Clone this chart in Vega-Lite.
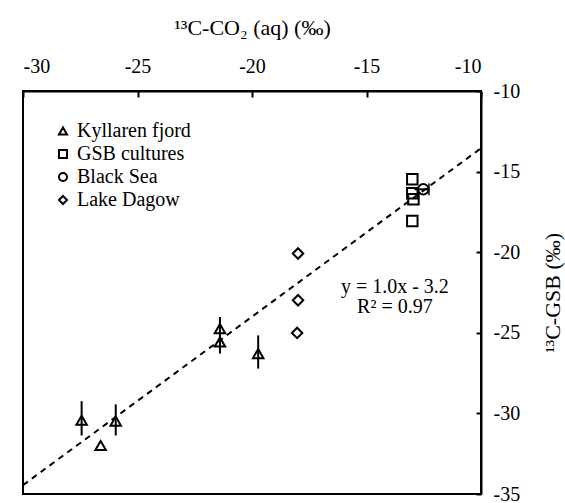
{
  "$schema": "https://vega.github.io/schema/vega-lite/v6.json",
  "autosize": {"type": "none"},
  "padding": {"left": 23, "top": 91, "right": 84, "bottom": 9},
  "width": 458,
  "height": 403,
  "config": {
    "font": "Liberation Serif, serif",
    "view": {"stroke": "black", "strokeWidth": 2},
    "background": "white",
    "axis": {"labelFont": "Liberation Serif, serif", "titleFont": "Liberation Serif, serif"},
    "legend": {"labelFont": "Liberation Serif, serif", "titleFont": "Liberation Serif, serif"},
    "text": {"font": "Liberation Serif, serif"}
  },
  "datasets": {
    "pts": [
      {"group": "Kyllaren fjord", "x": -27.44, "y": -30.43, "ylo": -31.37, "yhi": -29.24},
      {"group": "Kyllaren fjord", "x": -25.95, "y": -30.48, "ylo": -31.37, "yhi": -29.44},
      {"group": "Kyllaren fjord", "x": -26.61, "y": -31.99},
      {"group": "Kyllaren fjord", "x": -21.40, "y": -24.74, "ylo": -25.4, "yhi": -24.02},
      {"group": "Kyllaren fjord", "x": -21.40, "y": -25.57, "ylo": -26.29, "yhi": -24.9},
      {"group": "Kyllaren fjord", "x": -19.73, "y": -26.29, "ylo": -27.22, "yhi": -25.16},
      {"group": "GSB cultures", "x": -13.0, "y": -15.48},
      {"group": "GSB cultures", "x": -13.0, "y": -16.35},
      {"group": "GSB cultures", "x": -12.95, "y": -16.71},
      {"group": "GSB cultures", "x": -13.0, "y": -18.06},
      {"group": "Black Sea", "x": -12.52, "y": -16.1, "xlo": -12.9, "xhi": -12.27},
      {"group": "Lake Dagow", "x": -17.99, "y": -20.08},
      {"group": "Lake Dagow", "x": -17.99, "y": -22.98},
      {"group": "Lake Dagow", "x": -18.03, "y": -25.01}
    ],
    "fit": [
      {"x": -30, "y": -34.45},
      {"x": -10, "y": -13.55}
    ],
    "eq": [
      {"x": -13.76, "y": -22.5, "t": "y = 1.0x - 3.2"},
      {"x": -13.76, "y": -23.8, "t": "R² = 0.97"}
    ]
  },
  "encoding": {
    "x": {
      "field": "x", "type": "quantitative",
      "scale": {"domain": [-30, -10], "nice": false, "zero": false},
      "axis": {
        "orient": "top",
        "title": "¹³C-CO₂ (aq) (‰)",
        "values": [-30, -25, -20, -15, -10],
        "labelExpr": "'' + datum.value",
        "grid": false,
        "domainColor": "black", "domainWidth": 2,
        "tickColor": "black", "tickWidth": 2, "tickSize": -6,
        "labelPadding": 21,
        "labelFont": "Liberation Serif, serif", "labelFontSize": 20, "labelColor": "black",
        "titleFont": "Liberation Serif, serif", "titleFontSize": 22, "titleFontWeight": "normal", "titleColor": "black",
        "titlePadding": 17
      }
    },
    "y": {
      "field": "y", "type": "quantitative",
      "scale": {"domain": [-35, -10], "nice": false, "zero": false},
      "axis": {
        "orient": "right",
        "title": "¹³C-GSB (‰)",
        "values": [-35, -30, -25, -20, -15, -10],
        "labelExpr": "'' + datum.value",
        "grid": false,
        "domainColor": "black", "domainWidth": 2,
        "tickColor": "black", "tickWidth": 2, "tickSize": -5,
        "labelPadding": 17,
        "labelFont": "Liberation Serif, serif", "labelFontSize": 20, "labelColor": "black",
        "titleFont": "Liberation Serif, serif", "titleFontSize": 22, "titleFontWeight": "normal", "titleColor": "black",
        "titleAngle": 270, "titlePadding": 45
      }
    }
  },
  "layer": [
    {
      "data": {"name": "fit"},
      "mark": {"type": "line", "color": "black", "strokeWidth": 2, "strokeDash": [6, 5], "clip": true},
      "encoding": {}
    },
    {
      "data": {"name": "pts"},
      "transform": [{"filter": "isValid(datum.ylo)"}],
      "mark": {"type": "rule", "color": "black", "strokeWidth": 2},
      "encoding": {"y": {"field": "ylo", "type": "quantitative"}, "y2": {"field": "yhi"}}
    },
    {
      "data": {"name": "pts"},
      "transform": [{"filter": "isValid(datum.xlo)"}],
      "mark": {"type": "rule", "color": "black", "strokeWidth": 2},
      "encoding": {"x": {"field": "xlo", "type": "quantitative"}, "x2": {"field": "xhi"}}
    },
    {
      "data": {"name": "pts"},
      "transform": [{"filter": "isValid(datum.xhi)"}],
      "mark": {"type": "tick", "color": "black", "thickness": 2, "size": 12, "orient": "vertical"},
      "encoding": {"x": {"field": "xhi", "type": "quantitative"}}
    },
    {
      "data": {"name": "pts"},
      "mark": {"type": "point", "filled": false, "color": "black", "strokeWidth": 2, "opacity": 1, "size": 110},
      "encoding": {
        "shape": {
          "field": "group", "type": "nominal",
          "scale": {
            "domain": ["Kyllaren fjord", "GSB cultures", "Black Sea", "Lake Dagow"],
            "range": ["triangle-up", "square", "circle", "diamond"]
          },
          "legend": {
            "title": null,
            "orient": "none",
            "legendX": 30,
            "legendY": 30,
            "padding": 0,
            "symbolSize": 65,
            "symbolStrokeWidth": 2,
            "symbolStrokeColor": "black",
            "symbolFillColor": "transparent",
            "labelFont": "Liberation Serif, serif",
            "labelFontSize": 20,
            "labelColor": "black",
            "labelOffset": 4,
            "rowPadding": 3
          }
        }
      }
    },
    {
      "data": {"name": "eq"},
      "mark": {"type": "text", "font": "Liberation Serif, serif", "fontSize": 20, "color": "black", "align": "center", "baseline": "alphabetic"},
      "encoding": {"text": {"field": "t", "type": "nominal"}}
    }
  ]
}
